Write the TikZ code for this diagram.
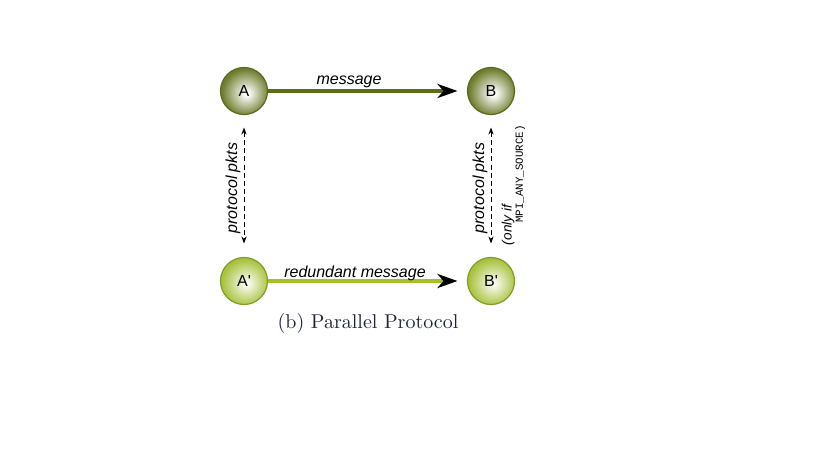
\documentclass[tikz,border=0pt]{standalone}
\usepackage{fontspec}
\setsansfont{Liberation Sans}
\setmonofont{Liberation Mono}
\usetikzlibrary{arrows.meta}
\definecolor{oliveOut}{HTML}{6E7D2E}
\definecolor{oliveBorder}{HTML}{5B6A1F}
\definecolor{limeOut}{HTML}{A8C23E}
\definecolor{limeBorder}{HTML}{819A2A}
\definecolor{msgDark}{HTML}{5C6E17}
\definecolor{msgLight}{HTML}{A6C02C}
\definecolor{capColor}{HTML}{1E2436}
\pgfdeclareradialshading{ballDark}{\pgfpoint{3bp}{-3bp}}{color(0bp)=(white); color(3bp)=(white!95!oliveOut); color(25bp)=(oliveOut); color(50bp)=(oliveOut)}
\pgfdeclareradialshading{ballLight}{\pgfpoint{3bp}{-3bp}}{color(0bp)=(white!92!limeOut); color(3bp)=(white!88!limeOut); color(25bp)=(limeOut); color(50bp)=(limeOut)}
\begin{document}
\begin{tikzpicture}[x=0.5pt,y=-0.5pt,
  proc/.style={circle, minimum size=23.5pt, inner sep=0pt, outer sep=0pt, line width=0.6pt,
     font=\sffamily\fontsize{8}{9}\selectfont},
  darkproc/.style={proc, draw=oliveBorder, shading=ballDark},
  lightproc/.style={proc, draw=limeBorder, shading=ballLight},
  msg/.style={line width=2pt, -{Stealth[length=10pt,width=7pt,inset=3pt,black]}, shorten >=5pt},
  ctrl/.style={line width=0.5pt, dash pattern=on 2.5pt off 1.6pt,
     {Stealth[length=3.5pt,width=2.6pt]}-{Stealth[length=3.5pt,width=2.6pt]},
     shorten <=6.5pt, shorten >=7pt},
  lbl/.style={font=\sffamily\itshape\fontsize{8}{9}\selectfont, inner sep=0pt},
  note/.style={font=\sffamily\itshape\fontsize{6.8}{8}\selectfont, inner sep=0pt, rotate=90},
  mono/.style={font=\ttfamily\fontsize{5.4}{6.5}\selectfont, inner sep=0pt, rotate=90}]
\useasboundingbox (0,0) rectangle (819,460);
\node[darkproc] (A) at (244,91) {A};
\node[darkproc] (B) at (491,91) {B};
\node[lightproc] (A2) at (244,281) {A\textquotesingle};
\node[lightproc] (B2) at (491,281) {B\textquotesingle};
\draw[msg, msgDark] (A) -- (B);
\draw[msg, msgLight] (A2) -- (B2);
\draw[ctrl] (A) -- (A2);
\draw[ctrl] (B) -- (B2);
\node[lbl] (lm) at (349,82) {message};
\node[lbl] (lr) at (355,273) {redundant message};
\node[lbl, rotate=90] (lpl) at (233,188) {protocol pkts};
\node[lbl, rotate=90] (lpr) at (480,188) {protocol pkts};
\node[note] (lonly) at (508,225) {(only if};
\node[mono] (lmpi) at (520,174) {MPI\_ANY\_SOURCE)};
\node[font=\rmfamily\fontsize{10}{12}\selectfont, text=capColor, inner sep=0pt] (cap) at (368,323) {(b)\ Parallel Protocol};
\end{tikzpicture}
\end{document}
